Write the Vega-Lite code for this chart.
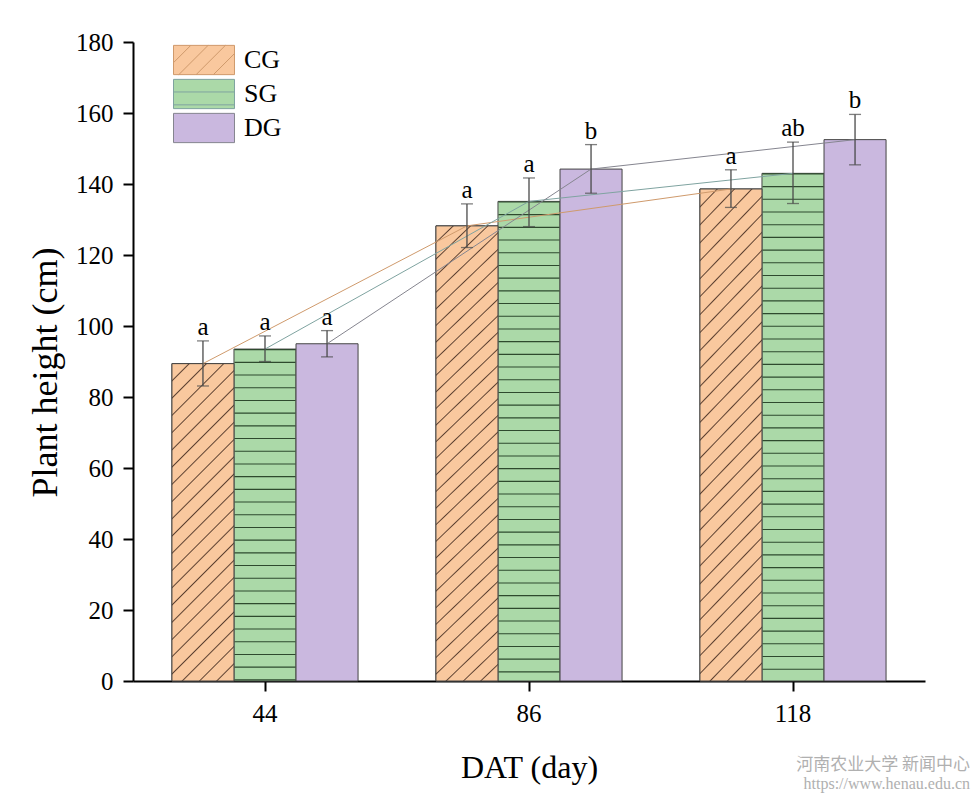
{
  "$schema": "https://vega.github.io/schema/vega-lite/v6.json",
  "width": 792,
  "height": 639,
  "autosize": {"type": "none"},
  "padding": {"left": 133, "top": 42, "right": 54, "bottom": 119},
  "background": "white",
  "config": {"view": {"stroke": null}, "font": "Liberation Serif"},
  "title": {
    "text": "河南农业大学 新闻中心",
    "subtitle": "https://www.henau.edu.cn",
    "orient": "bottom",
    "anchor": "end",
    "frame": "group",
    "offset": -26,
    "dx": 45,
    "font": "Noto Sans CJK SC",
    "fontSize": 17,
    "fontWeight": "normal",
    "color": "#b0b0b0",
    "subtitleFont": "Liberation Serif",
    "subtitleFontSize": 16,
    "subtitleColor": "#b0b0b0",
    "subtitlePadding": 2
  },
  "data": {
    "values": [
      {"day": 44, "group": "CG", "height": 89.4, "lo": 83.1, "hi": 95.8, "letter": "a"},
      {"day": 44, "group": "SG", "height": 93.5, "lo": 90.0, "hi": 97.2, "letter": "a"},
      {"day": 44, "group": "DG", "height": 95.0, "lo": 91.3, "hi": 98.7, "letter": "a"},
      {"day": 86, "group": "CG", "height": 128.2, "lo": 122.1, "hi": 134.4, "letter": "a"},
      {"day": 86, "group": "SG", "height": 135.1, "lo": 128.0, "hi": 141.7, "letter": "a"},
      {"day": 86, "group": "DG", "height": 144.2, "lo": 137.4, "hi": 151.1, "letter": "b"},
      {"day": 118, "group": "CG", "height": 138.6, "lo": 133.4, "hi": 144.0, "letter": "a"},
      {"day": 118, "group": "SG", "height": 143.0, "lo": 134.5, "hi": 151.8, "letter": "ab"},
      {"day": 118, "group": "DG", "height": 152.5, "lo": 145.4, "hi": 159.6, "letter": "b"}
    ]
  },
  "encoding": {
    "x": {
      "field": "day",
      "type": "ordinal",
      "scale": {"paddingInner": 0.295, "paddingOuter": 0.1475},
      "axis": {
        "title": "DAT (day)",
        "titleFont": "Liberation Serif",
        "titleFontSize": 32,
        "titleFontWeight": "normal",
        "titleColor": "black",
        "titlePadding": 26,
        "labelFont": "Liberation Serif",
        "labelFontSize": 25,
        "labelColor": "black",
        "labelAngle": 0,
        "labelPadding": 10,
        "tickSize": 10,
        "tickWidth": 2,
        "tickColor": "black",
        "domainColor": "black",
        "domainWidth": 2,
        "grid": false
      }
    },
    "xOffset": {"field": "group", "type": "nominal", "sort": ["CG", "SG", "DG"]}
  },
  "layer": [
    {
      "mark": {"type": "bar", "stroke": "#444", "strokeWidth": 1, "fillOpacity": 1},
      "encoding": {
        "y": {
          "field": "height",
          "type": "quantitative",
          "scale": {"domain": [0, 180], "nice": false},
          "axis": {
            "title": "Plant height (cm)",
            "titleFont": "Liberation Serif",
            "titleFontSize": 36,
            "titleFontWeight": "normal",
            "titleColor": "black",
            "titlePadding": 11,
            "titleY": 330,
            "values": [0, 10, 20, 30, 40, 50, 60, 70, 80, 90, 100, 110, 120, 130, 140, 150, 160, 170, 180],
            "labelExpr": "datum.value % 20 === 0 ? datum.label : ''",
            "labelFont": "Liberation Serif",
            "labelFontSize": 25,
            "labelColor": "black",
            "labelPadding": 10,
            "tickSize": {"condition": {"test": "datum.value % 20 === 0", "value": 10}, "value": 6},
            "tickWidth": 2,
            "tickColor": "black",
            "domainColor": "black",
            "domainWidth": 2,
            "grid": false
          }
        },
        "fill": {
          "field": "group",
          "type": "nominal",
          "scale": {"domain": ["CG", "SG", "DG"], "range": ["#f9c89e", "#abd9a8", "#cab8df"]},
          "legend": {
            "title": null,
            "orient": "none",
            "legendX": 55,
            "legendY": 2,
            "symbolType": "M-2,-0.96H2V0.96H-2Z",
            "symbolSize": 930,
            "symbolStrokeColor": "#444",
            "symbolStrokeWidth": 1,
            "symbolOpacity": 1,
            "labelFont": "Liberation Serif",
            "labelFontSize": 26,
            "labelColor": "black",
            "labelOffset": 24,
            "rowPadding": 0
          }
        }
      }
    },
    {
      "transform": [{"filter": "false"}],
      "mark": {"type": "point", "filled": true},
      "encoding": {
        "y": {"field": "height", "type": "quantitative"},
        "shape": {
          "field": "group",
          "type": "nominal",
          "scale": {
            "domain": ["CG", "SG", "DG"],
            "range": [
              "M-2,-0.96H2V0.96H-2ZM-2,0.174L-0.866,-0.96M-1.652,0.96L0.269,-0.96M-0.518,0.96L1.403,-0.96M0.616,0.96L2,-0.422",
              "M-2,-0.96H2V0.96H-2ZM-2,-0.134H2M-2,0.712H2",
              "M-2,-0.96H2V0.96H-2Z"
            ]
          },
          "legend": {
            "title": null,
            "orient": "none",
            "legendX": 55,
            "legendY": 2,
            "symbolSize": 930,
            "symbolStrokeColor": "#444",
            "symbolStrokeWidth": 1,
            "symbolOpacity": 1,
            "labelFont": "Liberation Serif",
            "labelFontSize": 26,
            "labelColor": "black",
            "labelOffset": 24,
            "rowPadding": 0
          }
        }
      }
    },
    {
      "transform": [{"filter": "datum.group === 'CG'"}],
      "mark": {"type": "bar", "stroke": "#444", "strokeWidth": 1},
      "encoding": {
        "y": {"field": "height", "type": "quantitative"},
        "fill": {
          "condition": {"test": "datum.day == 44", "value": {"gradient": "linear", "x1": 0, "y1": 0, "x2": 0.2249, "y2": 1.1514, "stops": [
            {"offset": 0.0418, "color": "#f9c89e"}, {"offset": 0.0455, "color": "#5c4030"}, {"offset": 0.0492, "color": "#f9c89e"},
            {"offset": 0.0872, "color": "#f9c89e"}, {"offset": 0.0909, "color": "#5c4030"}, {"offset": 0.0946, "color": "#f9c89e"},
            {"offset": 0.1327, "color": "#f9c89e"}, {"offset": 0.1364, "color": "#5c4030"}, {"offset": 0.1401, "color": "#f9c89e"},
            {"offset": 0.1781, "color": "#f9c89e"}, {"offset": 0.1818, "color": "#5c4030"}, {"offset": 0.1855, "color": "#f9c89e"},
            {"offset": 0.2236, "color": "#f9c89e"}, {"offset": 0.2273, "color": "#5c4030"}, {"offset": 0.2310, "color": "#f9c89e"},
            {"offset": 0.2690, "color": "#f9c89e"}, {"offset": 0.2727, "color": "#5c4030"}, {"offset": 0.2764, "color": "#f9c89e"},
            {"offset": 0.3145, "color": "#f9c89e"}, {"offset": 0.3182, "color": "#5c4030"}, {"offset": 0.3219, "color": "#f9c89e"},
            {"offset": 0.3599, "color": "#f9c89e"}, {"offset": 0.3636, "color": "#5c4030"}, {"offset": 0.3673, "color": "#f9c89e"},
            {"offset": 0.4054, "color": "#f9c89e"}, {"offset": 0.4091, "color": "#5c4030"}, {"offset": 0.4128, "color": "#f9c89e"},
            {"offset": 0.4508, "color": "#f9c89e"}, {"offset": 0.4545, "color": "#5c4030"}, {"offset": 0.4582, "color": "#f9c89e"},
            {"offset": 0.4963, "color": "#f9c89e"}, {"offset": 0.5000, "color": "#5c4030"}, {"offset": 0.5037, "color": "#f9c89e"},
            {"offset": 0.5418, "color": "#f9c89e"}, {"offset": 0.5455, "color": "#5c4030"}, {"offset": 0.5492, "color": "#f9c89e"},
            {"offset": 0.5872, "color": "#f9c89e"}, {"offset": 0.5909, "color": "#5c4030"}, {"offset": 0.5946, "color": "#f9c89e"},
            {"offset": 0.6327, "color": "#f9c89e"}, {"offset": 0.6364, "color": "#5c4030"}, {"offset": 0.6401, "color": "#f9c89e"},
            {"offset": 0.6781, "color": "#f9c89e"}, {"offset": 0.6818, "color": "#5c4030"}, {"offset": 0.6855, "color": "#f9c89e"},
            {"offset": 0.7236, "color": "#f9c89e"}, {"offset": 0.7273, "color": "#5c4030"}, {"offset": 0.7310, "color": "#f9c89e"},
            {"offset": 0.7690, "color": "#f9c89e"}, {"offset": 0.7727, "color": "#5c4030"}, {"offset": 0.7764, "color": "#f9c89e"},
            {"offset": 0.8145, "color": "#f9c89e"}, {"offset": 0.8182, "color": "#5c4030"}, {"offset": 0.8219, "color": "#f9c89e"},
            {"offset": 0.8599, "color": "#f9c89e"}, {"offset": 0.8636, "color": "#5c4030"}, {"offset": 0.8673, "color": "#f9c89e"},
            {"offset": 0.9054, "color": "#f9c89e"}, {"offset": 0.9091, "color": "#5c4030"}, {"offset": 0.9128, "color": "#f9c89e"},
            {"offset": 0.9508, "color": "#f9c89e"}, {"offset": 0.9545, "color": "#5c4030"}, {"offset": 0.9582, "color": "#f9c89e"}
          ]}},
          "value": {"gradient": "linear", "x1": 0, "y1": 0, "x2": 0.1454, "y2": 1.1118, "stops": [
            {"offset": 0.0297, "color": "#f9c89e"}, {"offset": 0.0323, "color": "#5c4030"}, {"offset": 0.0349, "color": "#f9c89e"},
            {"offset": 0.0619, "color": "#f9c89e"}, {"offset": 0.0645, "color": "#5c4030"}, {"offset": 0.0671, "color": "#f9c89e"},
            {"offset": 0.0942, "color": "#f9c89e"}, {"offset": 0.0968, "color": "#5c4030"}, {"offset": 0.0994, "color": "#f9c89e"},
            {"offset": 0.1264, "color": "#f9c89e"}, {"offset": 0.1290, "color": "#5c4030"}, {"offset": 0.1316, "color": "#f9c89e"},
            {"offset": 0.1587, "color": "#f9c89e"}, {"offset": 0.1613, "color": "#5c4030"}, {"offset": 0.1639, "color": "#f9c89e"},
            {"offset": 0.1909, "color": "#f9c89e"}, {"offset": 0.1935, "color": "#5c4030"}, {"offset": 0.1961, "color": "#f9c89e"},
            {"offset": 0.2232, "color": "#f9c89e"}, {"offset": 0.2258, "color": "#5c4030"}, {"offset": 0.2284, "color": "#f9c89e"},
            {"offset": 0.2555, "color": "#f9c89e"}, {"offset": 0.2581, "color": "#5c4030"}, {"offset": 0.2607, "color": "#f9c89e"},
            {"offset": 0.2877, "color": "#f9c89e"}, {"offset": 0.2903, "color": "#5c4030"}, {"offset": 0.2929, "color": "#f9c89e"},
            {"offset": 0.3200, "color": "#f9c89e"}, {"offset": 0.3226, "color": "#5c4030"}, {"offset": 0.3252, "color": "#f9c89e"},
            {"offset": 0.3522, "color": "#f9c89e"}, {"offset": 0.3548, "color": "#5c4030"}, {"offset": 0.3574, "color": "#f9c89e"},
            {"offset": 0.3845, "color": "#f9c89e"}, {"offset": 0.3871, "color": "#5c4030"}, {"offset": 0.3897, "color": "#f9c89e"},
            {"offset": 0.4168, "color": "#f9c89e"}, {"offset": 0.4194, "color": "#5c4030"}, {"offset": 0.4220, "color": "#f9c89e"},
            {"offset": 0.4490, "color": "#f9c89e"}, {"offset": 0.4516, "color": "#5c4030"}, {"offset": 0.4542, "color": "#f9c89e"},
            {"offset": 0.4813, "color": "#f9c89e"}, {"offset": 0.4839, "color": "#5c4030"}, {"offset": 0.4865, "color": "#f9c89e"},
            {"offset": 0.5135, "color": "#f9c89e"}, {"offset": 0.5161, "color": "#5c4030"}, {"offset": 0.5187, "color": "#f9c89e"},
            {"offset": 0.5458, "color": "#f9c89e"}, {"offset": 0.5484, "color": "#5c4030"}, {"offset": 0.5510, "color": "#f9c89e"},
            {"offset": 0.5780, "color": "#f9c89e"}, {"offset": 0.5806, "color": "#5c4030"}, {"offset": 0.5832, "color": "#f9c89e"},
            {"offset": 0.6103, "color": "#f9c89e"}, {"offset": 0.6129, "color": "#5c4030"}, {"offset": 0.6155, "color": "#f9c89e"},
            {"offset": 0.6426, "color": "#f9c89e"}, {"offset": 0.6452, "color": "#5c4030"}, {"offset": 0.6478, "color": "#f9c89e"},
            {"offset": 0.6748, "color": "#f9c89e"}, {"offset": 0.6774, "color": "#5c4030"}, {"offset": 0.6800, "color": "#f9c89e"},
            {"offset": 0.7071, "color": "#f9c89e"}, {"offset": 0.7097, "color": "#5c4030"}, {"offset": 0.7123, "color": "#f9c89e"},
            {"offset": 0.7393, "color": "#f9c89e"}, {"offset": 0.7419, "color": "#5c4030"}, {"offset": 0.7445, "color": "#f9c89e"},
            {"offset": 0.7716, "color": "#f9c89e"}, {"offset": 0.7742, "color": "#5c4030"}, {"offset": 0.7768, "color": "#f9c89e"},
            {"offset": 0.8039, "color": "#f9c89e"}, {"offset": 0.8065, "color": "#5c4030"}, {"offset": 0.8091, "color": "#f9c89e"},
            {"offset": 0.8361, "color": "#f9c89e"}, {"offset": 0.8387, "color": "#5c4030"}, {"offset": 0.8413, "color": "#f9c89e"},
            {"offset": 0.8684, "color": "#f9c89e"}, {"offset": 0.8710, "color": "#5c4030"}, {"offset": 0.8736, "color": "#f9c89e"},
            {"offset": 0.9006, "color": "#f9c89e"}, {"offset": 0.9032, "color": "#5c4030"}, {"offset": 0.9058, "color": "#f9c89e"},
            {"offset": 0.9329, "color": "#f9c89e"}, {"offset": 0.9355, "color": "#5c4030"}, {"offset": 0.9381, "color": "#f9c89e"},
            {"offset": 0.9651, "color": "#f9c89e"}, {"offset": 0.9677, "color": "#5c4030"}, {"offset": 0.9703, "color": "#f9c89e"}
          ]}
        }
      }
    },
    {
      "transform": [{"filter": "datum.group === 'SG'"}],
      "mark": {"type": "rule", "color": "#2e4a2e", "strokeWidth": 61, "strokeDash": [1.1, 11.6], "strokeCap": "butt"},
      "encoding": {
        "y": {"field": "height", "type": "quantitative"},
        "y2": {"datum": 0}
      }
    },
    {
      "mark": {"type": "line", "strokeWidth": 1},
      "encoding": {
        "y": {"field": "height", "type": "quantitative"},
        "stroke": {
          "field": "group",
          "type": "nominal",
          "scale": {"domain": ["CG", "SG", "DG"], "range": ["#cf9a6c", "#7fa3a0", "#85858f"]},
          "legend": null
        }
      }
    },
    {
      "mark": {"type": "rule", "color": "#4a4a4a", "strokeWidth": 1.3},
      "encoding": {
        "y": {"field": "lo", "type": "quantitative"},
        "y2": {"field": "hi"}
      }
    },
    {
      "mark": {"type": "tick", "color": "#4a4a4a", "size": 12, "thickness": 1.3},
      "encoding": {"y": {"field": "hi", "type": "quantitative"}}
    },
    {
      "mark": {"type": "tick", "color": "#4a4a4a", "size": 12, "thickness": 1.3},
      "encoding": {"y": {"field": "lo", "type": "quantitative"}}
    },
    {
      "mark": {"type": "text", "baseline": "alphabetic", "dy": -6, "fontSize": 25, "font": "Liberation Serif", "color": "black"},
      "encoding": {
        "y": {"field": "hi", "type": "quantitative"},
        "text": {"field": "letter"}
      }
    }
  ]
}
